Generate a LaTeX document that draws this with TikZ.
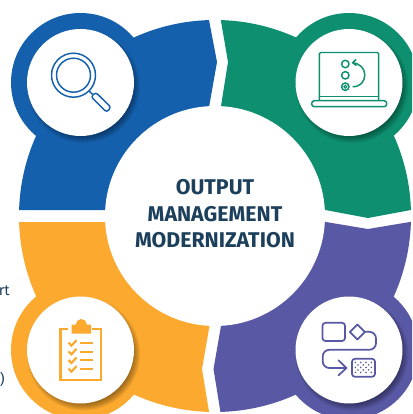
\documentclass[tikz,border=0pt]{standalone}
\usepackage{fontspec}
\setmainfont{Fira Sans}
\definecolor{cblue}{HTML}{1560AD}
\definecolor{cgreen}{HTML}{0E8F70}
\definecolor{cyellow}{HTML}{FBA92F}
\definecolor{cpurple}{HTML}{5858A4}
\definecolor{ctext}{HTML}{1C3F5C}
\newcommand{\ringpiece}[5]{%
  \begin{scope}
    \clip #2;
    \fill[#1] (215,216) circle (196);
    \fill[#1] (#3,#4) circle (69.5);
  \end{scope}
  \foreach \k in {8,7,...,0}{
    \fill[black,opacity=0.055] ({#3+3},{#4+4}) circle ({48.5+\k});
  }
  \fill[white] (#3,#4) circle (53.5);
}
\tikzset{
  titletext/.style={font=\fontsize{16pt}{16pt}\selectfont\bfseries,text=ctext,inner sep=0pt,anchor=center},
  straytext/.style={font=\fontsize{11pt}{11pt}\selectfont,text=ctext,inner sep=0pt},
  iconblue/.style={draw=cblue,line width=1.1pt},
  icongreen/.style={draw=cgreen,line width=1.1pt},
  iconyellow/.style={draw=cyellow,line width=1.6pt},
  iconpurple/.style={draw=cpurple,line width=1.3pt,line join=round,line cap=round},
}
\begin{document}
\begin{tikzpicture}[x=0.75pt,y=-0.75pt]
\useasboundingbox (0,0) rectangle (412,414);
\clip (0,0) rectangle (412,414);
\fill[white] (0,0) rectangle (412,414);
% stray cut-off text at the left edge
\node[straytext,anchor=base east] (strayone) at (10,295) {rt};
\node[straytext,anchor=base east] (straytwo) at (5,384) {)};
% ring segments
\ringpiece{cblue}{(0,0) -- (205.2,0) -- (217,62) -- (205,130) -- (205,210) -- (0,210) -- cycle}{80.5}{82.5}{}
\ringpiece{cgreen}{(217.4,0) -- (420,0) -- (420,208.3) -- (368,218) -- (320,209) -- (217,209) -- (217.2,130) -- (228,62) -- cycle}{349}{82.5}{}
\ringpiece{cpurple}{(320,221) -- (368,229) -- (420,220.3) -- (420,424) -- (222.4,424) -- (213.5,369) -- (225.5,300) -- (225.5,221) -- cycle}{349}{350}{}
\ringpiece{cyellow}{(0,222) -- (214,222) -- (214,300) -- (202,369) -- (211,424) -- (0,424) -- cycle}{80.5}{350}{}
% centre
\fill[white] (215,216) circle (110);
\node[titletext] (lineone) at (215,187) {OUTPUT};
\node[titletext] (linetwo) at (215,214) {MANAGEMENT};
\node[titletext] (linethree) at (215,240.5) {MODERNIZATION};
% magnifier
\draw[iconblue] (73.5,75.2) circle (22);
\draw[iconblue] (73.5,75.2) circle (17);
\draw[iconblue] (89.3,91) -- (92.5,94.4);
\draw[iconblue,rounded corners=2pt] (95.7,92.3) -- (91,96.7) -- (106.7,112.3) -- (111,107.3) -- cycle;
% laptop
\draw[icongreen,rounded corners=1pt] (319.3,100.7) -- (319.3,52.5) -- (378.7,52.5) -- (378.7,100.7);
\draw[icongreen] (319.3,96.7) -- (378.7,96.7);
\draw[icongreen,rounded corners=2pt] (311.7,100.7) rectangle (386.7,106.7);
\draw[icongreen] (345.3,64) circle (3.7);
\draw[icongreen] (345.3,75.3) circle (3.7);
\draw[icongreen] (345.3,86.7) circle (3.7);
\draw[icongreen,line width=0.8pt] (345.3,86.7) circle (1.5);
\coordinate (arcstart) at (352.7,86.7);
\coordinate (arcend) at (352.7,62.8);
\draw[icongreen] (arcstart) .. controls (360,87) and (364.8,81.5) .. (364.8,75) .. controls (364.8,68.5) and (360,63.5) .. (arcend);
\draw[icongreen] (356,59.5) -- (352.7,62.8) -- (356.5,65.5);
% clipboard
\draw[iconyellow] (68,328.7) -- (60.5,328.7) -- (60.5,380) -- (101.2,380) -- (101.2,328.7) -- (91.7,328.7);
\fill[cyellow] (71.7,333.5) -- (71.7,324.5) -- (75.8,324.5) arc[start angle=180,end angle=360,radius=5.5] -- (91,324.5) -- (91,333.5) -- cycle;
\foreach \r in {342.7,351.3,360,368.7}{
  \draw[iconyellow,line cap=butt] (68.5,\r) -- (71.5,{\r+3}) -- (76.5,{\r-2.5});
  \draw[iconyellow,line cap=butt] (80,{\r+0.3}) -- (93.3,{\r+0.3});
}
% process flow
\draw[iconpurple,rounded corners=2.2pt] (322.5,322.8) rectangle (345,341);
\draw[iconpurple] (357.3,324.5) -- (364.8,332) -- (357.3,339.5) -- (349.8,332) -- cycle;
\draw[iconpurple,rounded corners=5pt] (364.8,331.8) -- (376,331.8) -- (376,349.8) -- (322.7,349.8) -- (322.7,368) -- (346.5,368);
\draw[iconpurple] (338.5,360.3) -- (346.5,368) -- (338.5,375.3);
\draw[iconpurple,rounded corners=2.2pt] (352,358.8) rectangle (375,376.8);
\foreach \c in {0,1,2,3}{
  \foreach \d in {0,1,2}{
    \fill[cpurple] ({355.4+\c*5.3},{362.4+\d*5}) circle (0.9);
  }
}
\foreach \c in {0,1,2}{
  \foreach \d in {0,1}{
    \fill[cpurple] ({358+\c*5.3},{364.9+\d*5}) circle (0.9);
  }
}
\end{tikzpicture}
\end{document}
